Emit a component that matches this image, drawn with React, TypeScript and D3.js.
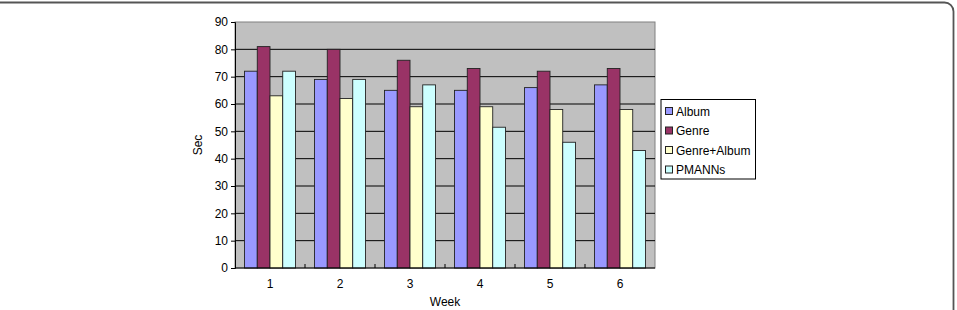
import React, {useEffect, useRef} from 'react';
import * as d3 from 'd3';

const weeks = ['1', '2', '3', '4', '5', '6'];
const seriesNames = ['Album', 'Genre', 'Genre+Album', 'PMANNs'];
const album = [72, 69, 65, 65, 66, 67];
const genre = [81, 80, 76, 73, 72, 73];
const genreAlbum = [63, 62, 59, 59, 58, 58];
const pmanns = [72, 69, 67, 51.5, 46, 43];
const yTicks = [0, 10, 20, 30, 40, 50, 60, 70, 80, 90];
const colors = ['#9999ff', '#993366', '#ffffcc', '#ccffff'];

const App = () => {
    const svgRef = useRef<SVGSVGElement>(null);
    const width = 957;
    const height = 310;

    useEffect(() => {
        const svg = d3.select(svgRef.current);
        svg.selectAll('*').remove();

        const font = '"Liberation Sans", Arial, sans-serif';
        const fs = 12;
        const plot = {left: 235, right: 655, top: 22, bottom: 268};
        const values = [album, genre, genreAlbum, pmanns];

        // outer frame
        svg.append('rect')
            .attr('x', -20).attr('y', 2.5)
            .attr('width', 973.5).attr('height', 340)
            .attr('rx', 9)
            .attr('fill', 'none')
            .attr('stroke', '#555')
            .attr('stroke-width', 1.8);

        const x = d3.scaleBand()
            .domain(weeks)
            .range([plot.left, plot.right]);
        const xInner = d3.scaleBand()
            .domain(seriesNames)
            .range([0, x.bandwidth()])
            .paddingInner(0)
            .paddingOuter(0.75);
        const y = d3.scaleLinear()
            .domain([0, 90])
            .range([plot.bottom, plot.top]);

        // plot background
        svg.append('rect')
            .attr('x', plot.left).attr('y', plot.top)
            .attr('width', plot.right - plot.left)
            .attr('height', plot.bottom - plot.top)
            .attr('fill', '#c0c0c0')
            .attr('stroke', '#808080')
            .attr('stroke-width', 1);

        // grid
        svg.append('g').selectAll('line')
            .data(yTicks.slice(1, -1))
            .join('line')
            .attr('x1', plot.left).attr('x2', plot.right)
            .attr('y1', d => y(d)).attr('y2', d => y(d))
            .attr('stroke', '#000')
            .attr('stroke-width', 1);

        // bars
        seriesNames.forEach((s, si) => {
            svg.append('g').selectAll('rect')
                .data(values[si])
                .join('rect')
                .attr('x', (d, i) => (x(weeks[i]) as number) + (xInner(s) as number))
                .attr('y', d => y(d))
                .attr('width', xInner.bandwidth())
                .attr('height', d => y(0) - y(d))
                .attr('fill', colors[si])
                .attr('stroke', '#222')
                .attr('stroke-width', 0.9);
        });

        // y axis
        const yAxis = svg.append('g')
            .attr('transform', `translate(${plot.left},0)`)
            .call(d3.axisLeft(y).tickValues(yTicks).tickSize(4).tickPadding(3));
        yAxis.select('.domain').attr('stroke', '#000');
        yAxis.selectAll('text').attr('font-family', font).attr('font-size', fs).attr('fill', '#000');

        // x axis
        const xAxisG = svg.append('g');
        xAxisG.append('line')
            .attr('x1', plot.left).attr('x2', plot.right)
            .attr('y1', plot.bottom).attr('y2', plot.bottom)
            .attr('stroke', '#000');
        xAxisG.selectAll('line.tk')
            .data(weeks.slice(1))
            .join('line')
            .attr('class', 'tk')
            .attr('x1', d => x(d) as number).attr('x2', d => x(d) as number)
            .attr('y1', plot.bottom - 4).attr('y2', plot.bottom)
            .attr('stroke', '#000');
        xAxisG.selectAll('text')
            .data(weeks)
            .join('text')
            .attr('x', d => (x(d) as number) + x.bandwidth() / 2)
            .attr('y', 288)
            .attr('text-anchor', 'middle')
            .attr('font-family', font).attr('font-size', fs)
            .text(d => d);

        // axis titles
        svg.append('text')
            .attr('x', 445).attr('y', 306)
            .attr('text-anchor', 'middle')
            .attr('font-family', font).attr('font-size', fs)
            .text('Week');
        svg.append('text')
            .attr('transform', 'translate(202,145) rotate(-90)')
            .attr('text-anchor', 'middle')
            .attr('font-family', font).attr('font-size', fs)
            .text('Sec');

        // legend
        const legend = svg.append('g').attr('transform', 'translate(661,99.5)');
        legend.append('rect')
            .attr('width', 94.5).attr('height', 79.5)
            .attr('fill', '#fff')
            .attr('stroke', '#000');
        seriesNames.forEach((s, i) => {
            const row = legend.append('g').attr('transform', `translate(0,${11.5 + i * 19.5})`);
            row.append('rect')
                .attr('x', 4.5).attr('y', -3.5)
                .attr('width', 7).attr('height', 7)
                .attr('fill', colors[i])
                .attr('stroke', '#222');
            row.append('text')
                .attr('x', 15).attr('y', 4.5)
                .attr('font-family', font).attr('font-size', fs)
                .text(s);
        });
    }, []);

    return (
        <svg ref={svgRef} width={width} height={height}
             style={{position: 'absolute', left: 0, top: 0, background: '#fff'}}></svg>
    );
};

export default App;
